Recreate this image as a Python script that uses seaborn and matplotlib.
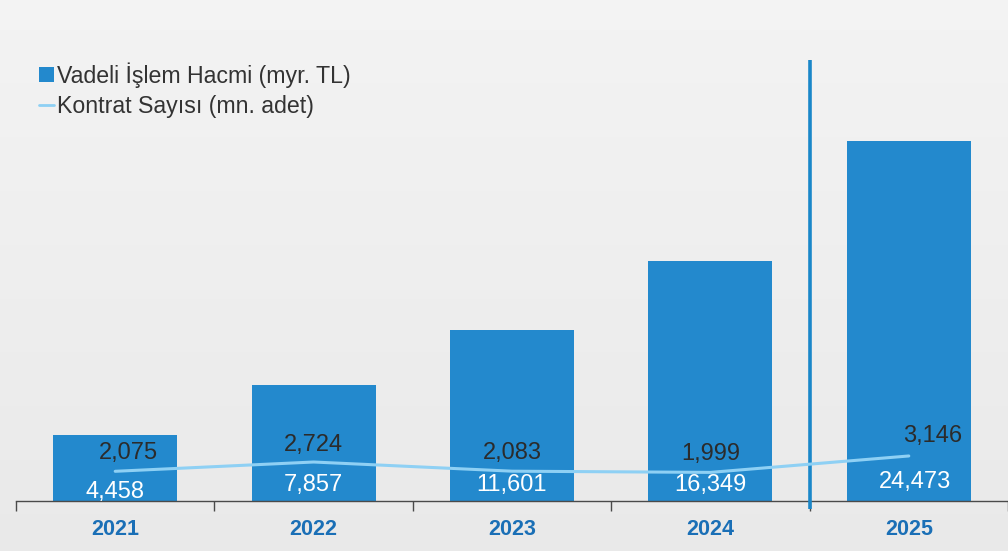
import numpy as np
import pandas as pd
import matplotlib
matplotlib.use("Agg")
import matplotlib.pyplot as plt
import seaborn as sns
from matplotlib.patches import Patch
from matplotlib.lines import Line2D

years = ["2021", "2022", "2023", "2024", "2025"]
volume = [4458, 7857, 11601, 16349, 24473]          # Vadeli İşlem Hacmi (myr. TL)
contracts = [2075, 2724, 2083, 1999, 3146]          # Kontrat Sayısı (mn. adet)
volume_labels = ["4,458", "7,857", "11,601", "16,349", "24,473"]
contract_labels = ["2,075", "2,724", "2,083", "1,999", "3,146"]
legend_labels = ["Vadeli İşlem Hacmi (myr. TL)", "Kontrat Sayısı (mn. adet)"]

BAR = "#2389cd"
LINE = "#8ed0f4"
YEAR_C = "#1a6fb6"
TXT = "#2b2b2b"

sns.set_theme(style="white")
plt.rcParams["font.family"] = ["Liberation Sans", "DejaVu Sans"]

W, H = 1008, 551
fig = plt.figure(figsize=(W / 100, H / 100), dpi=100)

# background gradient
bg = fig.add_axes([0, 0, 1, 1], zorder=-10)
grad = np.linspace(0.955, 0.915, 256).reshape(-1, 1)
bg.imshow(np.dstack([grad, grad, grad]), aspect="auto", extent=[0, 1, 0, 1])
bg.set_axis_off()

x0, base = 16, 501
ax = fig.add_axes([x0 / W, (H - base) / H, (W - x0) / W, base / H])
ax.patch.set_alpha(0)

df = pd.DataFrame({"year": years, "volume": volume, "contracts": contracts})
sns.barplot(data=df, x="year", y="volume", ax=ax, color=BAR, saturation=1,
            width=0.625, linewidth=0, edgecolor="none", zorder=2)
ax.set_xlim(-0.5, 4.5)
ax.set_ylim(0, 34058)
ax.set_xlabel("")
ax.set_ylabel("")
ax.set_yticks([])
for s in ["top", "right", "left"]:
    ax.spines[s].set_visible(False)
ax.spines["bottom"].set_color("#4a4a4a")
ax.spines["bottom"].set_linewidth(1.0)
ax.set_xticks(range(5))
ax.set_xticklabels(years, fontsize=15.5, fontweight="bold", color=YEAR_C)
ax.tick_params(axis="x", which="major", length=0, pad=13)
ax.set_xticks(np.arange(-0.5, 4.6, 1.0), minor=True)
ax.tick_params(axis="x", which="minor", length=7, width=1, color="#4a4a4a",
               direction="out", bottom=True)

ax2 = ax.twinx()
ax2.patch.set_alpha(0)
sns.lineplot(x=np.arange(5), y=contracts, ax=ax2, color=LINE, linewidth=2.2,
             zorder=3)
ax2.set_ylim(0, 35000)
ax2.set_yticks([])
for s in ax2.spines.values():
    s.set_visible(False)

# value labels
bar_dx = [0, 0, 0, 0, 6]
bar_dy = [9, 16, 16, 16, 19]
for i, lab in enumerate(volume_labels):
    ax.annotate(lab, (i, 0), xytext=(bar_dx[i], bar_dy[i]), textcoords="offset pixels",
                ha="center", va="center", fontsize=17, color="white", zorder=5)

line_dx = [13, 0, 0, 0, 24]
line_dy = [18, 17, 18, 18, 20]
for i, lab in enumerate(contract_labels):
    ax2.annotate(lab, (i, contracts[i]), xytext=(line_dx[i], line_dy[i]),
                 textcoords="offset pixels", ha="center", va="center",
                 fontsize=17, color=TXT, zorder=5)

# separator before 2025
ax.axvline(3.5, ymin=-0.016, ymax=(base - 60) / base, color="#1a87c9",
           linewidth=2.6, clip_on=False, zorder=4, solid_capstyle="butt")

handles = [Patch(facecolor=BAR, edgecolor="none"), Line2D([0], [0], color=LINE, lw=2)]
fig.legend(handles, legend_labels, loc="upper left",
           bbox_to_anchor=(30 / W, 1 - 53 / H), frameon=False, fontsize=16.7,
           handlelength=0.65, handleheight=0.65, handletextpad=0.12,
           labelspacing=0.3, borderaxespad=0, labelcolor="#333333")

fig.savefig("out.png", dpi=100)
